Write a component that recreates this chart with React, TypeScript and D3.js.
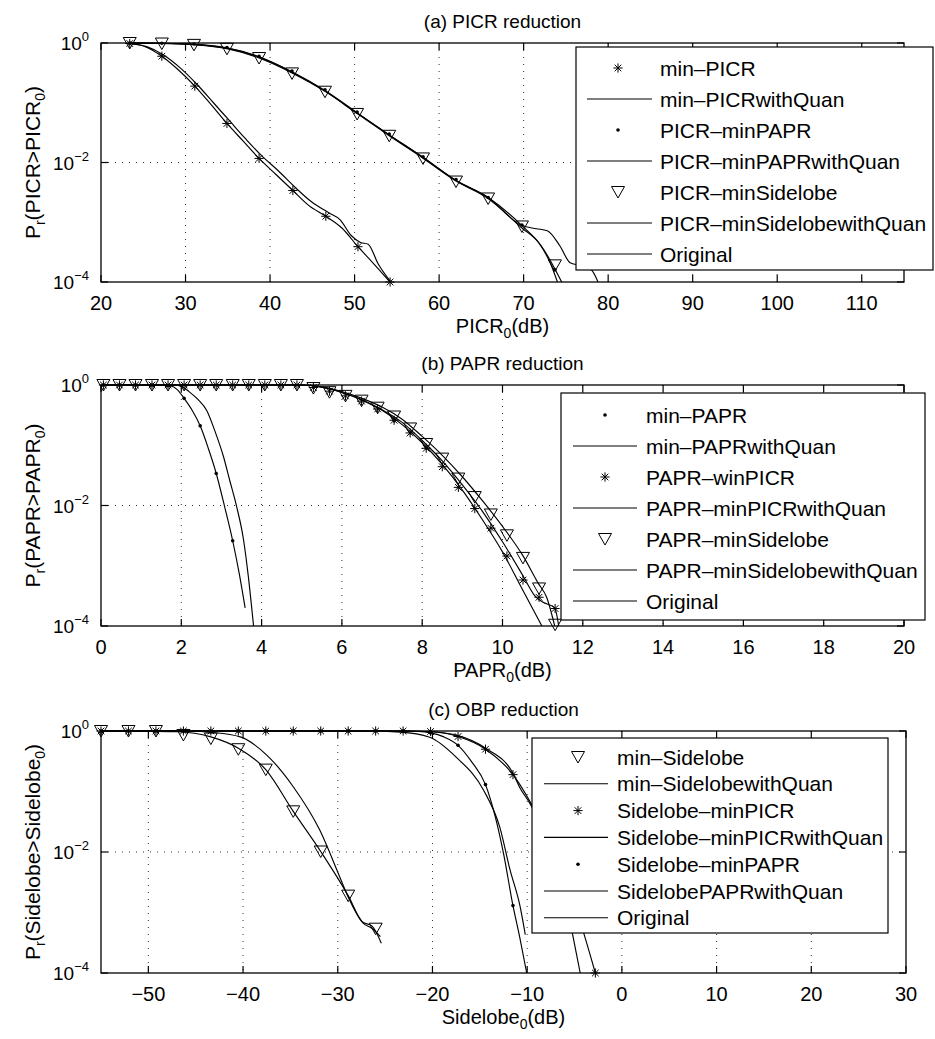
import React from "react";
import * as d3 from "d3";

const FONT = "'Liberation Sans', Arial, Helvetica, sans-serif";

// ---------------- Panel (a) PICR reduction ----------------
const aXTicks = [20, 30, 40, 50, 60, 70, 80, 90, 100, 110];
const aStarX = [23.4, 27.2, 31.1, 34.9, 38.7, 42.7, 46.6, 50.4, 54.2];
const aStarP = [0.98, 0.6, 0.19, 0.045, 0.0117, 0.0034, 0.00126, 0.00039, 0.0001];
const aMinPicrLineX = [23.4, 25.3, 27.2, 29.1, 31.1, 33.0, 34.9, 36.8, 38.7, 40.7, 42.7, 44.6, 46.6, 48.5, 50.4, 52.3, 54.2];
const aMinPicrLineP = [0.98, 0.86, 0.6, 0.36, 0.19, 0.094, 0.045, 0.023, 0.0117, 0.0063, 0.0034, 0.0019, 0.00126, 0.0008, 0.00039, 0.0002, 0.0001];
const aMinPicrQuanX = [23.4, 25.4, 27.4, 29.4, 31.4, 33.3, 35.2, 37.1, 39.0, 41.0, 43.0, 44.9, 46.9, 48.3, 49.6, 50.7, 51.6, 52.8, 54.3];
const aMinPicrQuanP = [0.98, 0.87, 0.63, 0.38, 0.2, 0.1, 0.05, 0.025, 0.013, 0.0072, 0.0038, 0.0022, 0.00145, 0.0011, 0.0006, 0.00046, 0.00043, 0.0002, 0.0001];
const aTriX = [23.4, 27.2, 31.0, 34.9, 38.7, 42.6, 46.5, 50.3, 54.1, 58.1, 62.0, 65.8, 69.8, 73.7];
const aTriP = [1.0, 0.98, 0.93, 0.8, 0.56, 0.31, 0.153, 0.065, 0.028, 0.0117, 0.0048, 0.0025, 0.00085, 0.00019];
const aDotP = [1.0, 0.99, 0.96, 0.84, 0.6, 0.34, 0.165, 0.07, 0.03, 0.0125, 0.0052, 0.0026, 0.0009, 0.00016];
const aOrigX = [23.4, 27.2, 31.0, 34.9, 38.7, 42.6, 46.5, 50.3, 54.1, 58.1, 62.0, 65.8, 69.8, 72.1, 74.5];
const aOrigP = [1.0, 0.99, 0.95, 0.82, 0.58, 0.325, 0.158, 0.067, 0.029, 0.0121, 0.005, 0.0026, 0.00088, 0.0004, 0.0001];
const aPaprQuanX = [23.4, 27.2, 31.0, 34.9, 38.7, 42.6, 46.5, 50.3, 54.1, 58.1, 62.0, 65.8, 69.8, 71.5, 72.8, 74.3, 75.5, 76.6, 78.0, 78.8];
const aPaprQuanP = [1.0, 0.99, 0.95, 0.83, 0.59, 0.33, 0.16, 0.068, 0.029, 0.0122, 0.005, 0.0026, 0.00088, 0.00078, 0.00072, 0.0004, 0.00021, 0.00019, 0.00016, 0.0001];
const aSideQuanX = [23.4, 27.2, 31.0, 34.9, 38.7, 42.6, 46.5, 50.3, 54.1, 58.1, 62.0, 65.8, 69.8, 71.8, 73.2, 74.0];
const aSideQuanP = [1.0, 0.98, 0.94, 0.8, 0.56, 0.315, 0.155, 0.066, 0.028, 0.0118, 0.0049, 0.0025, 0.0008, 0.00045, 0.0002, 0.0001];
const aLegendLabels = ["min–PICR", "min–PICRwithQuan", "PICR–minPAPR", "PICR–minPAPRwithQuan", "PICR–minSidelobe", "PICR–minSidelobewithQuan", "Original"];
const aLegendKinds = ["star", "line", "dot", "line", "tri", "line", "line"];

// ---------------- Panel (b) PAPR reduction ----------------
const bXTicks = [0, 2, 4, 6, 8, 10, 12, 14, 16, 18, 20];
const bGridX = [0.06, 0.46, 0.86, 1.27, 1.67, 2.07, 2.47, 2.87, 3.28, 3.68, 4.08, 4.48, 4.88, 5.29, 5.69, 6.09, 6.49, 6.89, 7.30, 7.70, 8.10, 8.50, 8.90, 9.31, 9.71, 10.11, 10.51, 10.91, 11.31];
const bTriP = [1, 1, 1, 1, 1, 1, 1, 1, 1, 1, 1, 1, 1, 0.89, 0.76, 0.66, 0.55, 0.42, 0.3, 0.19, 0.105, 0.06, 0.028, 0.0138, 0.0071, 0.0032, 0.00135, 0.00042, 0.000105];
const bStarP = [1, 1, 1, 1, 1, 1, 1, 1, 1, 1, 1, 1, 1, 0.91, 0.79, 0.66, 0.54, 0.4, 0.26, 0.16, 0.089, 0.044, 0.02, 0.0089, 0.0042, 0.00145, 0.00058, 0.0003, 0.000195];
const bMinPaprDotX = [0.06, 0.46, 0.86, 1.27, 1.67, 2.07, 2.47, 2.87, 3.28];
const bMinPaprDotP = [1, 1, 1, 1, 0.98, 0.6, 0.21, 0.034, 0.0026];
const bMinPaprLineX = [0.06, 1.5, 1.72, 1.9, 2.07, 2.27, 2.47, 2.67, 2.87, 3.08, 3.28, 3.45, 3.59];
const bMinPaprLineP = [1, 1, 0.97, 0.84, 0.6, 0.38, 0.21, 0.09, 0.034, 0.0095, 0.0026, 0.0007, 0.0002];
const bMinPaprQuanX = [0.06, 1.8, 2.0, 2.2, 2.42, 2.63, 2.84, 3.05, 3.2, 3.38, 3.55, 3.67, 3.8];
const bMinPaprQuanP = [1, 1, 0.95, 0.77, 0.57, 0.38, 0.17, 0.065, 0.027, 0.0095, 0.0027, 0.00066, 0.0001];
const bOrigX = [0.06, 5.0, 5.5, 6.0, 6.5, 7.0, 7.5, 8.0, 8.5, 9.0, 9.5, 10.0, 10.5, 10.98];
const bOrigP = [1, 1, 0.92, 0.75, 0.56, 0.38, 0.22, 0.11, 0.048, 0.018, 0.0058, 0.0017, 0.0004, 0.0001];
const bSideQuanX = [0.06, 5.0, 5.5, 6.0, 6.5, 7.0, 7.5, 8.0, 8.5, 9.0, 9.5, 10.0, 10.5, 10.9, 11.1, 11.3];
const bSideQuanP = [1, 1, 0.93, 0.78, 0.6, 0.43, 0.27, 0.14, 0.068, 0.03, 0.012, 0.0045, 0.0015, 0.0005, 0.0003, 0.0001];
const bPicrQuanX = [0.06, 5.0, 5.5, 6.0, 6.5, 7.0, 7.5, 8.0, 8.5, 9.0, 9.5, 10.0, 10.5, 10.8, 11.0, 11.3, 11.4];
const bPicrQuanP = [1, 1, 0.92, 0.76, 0.57, 0.39, 0.24, 0.12, 0.055, 0.022, 0.008, 0.0025, 0.0007, 0.00032, 0.00025, 0.0002, 0.0001];
const bLegendLabels = ["min–PAPR", "min–PAPRwithQuan", "PAPR–winPICR", "PAPR–minPICRwithQuan", "PAPR–minSidelobe", "PAPR–minSidelobewithQuan", "Original"];
const bLegendKinds = ["dot", "line", "star", "line", "tri", "line", "line"];

// ---------------- Panel (c) OBP reduction ----------------
const cXTicks = [-50, -40, -30, -20, -10, 0, 10, 20, 30];
const cTriX = [-55, -52.1, -49.2, -46.3, -43.4, -40.5, -37.6, -34.7, -31.8, -28.9, -26.0];
const cTriP = [1, 1, 1, 0.86, 0.75, 0.5, 0.23, 0.047, 0.0102, 0.0019, 0.00054];
const cTriLineX = [-55, -47, -43.4, -40.5, -37.6, -34.7, -31.8, -28.9, -27.4, -26.4, -25.4];
const cTriLineP = [1, 0.97, 0.8, 0.52, 0.23, 0.047, 0.0102, 0.0019, 0.0007, 0.0006, 0.00031];
const cSideQuanX = [-55, -46, -43.4, -40.3, -37.5, -34.7, -31.9, -29.8, -28.9, -27.3, -26.4, -25.5];
const cSideQuanP = [1, 1, 0.95, 0.8, 0.4, 0.12, 0.023, 0.0039, 0.0018, 0.00066, 0.00055, 0.0004];
const cStarX = [-55, -52.1, -49.2, -46.3, -43.4, -40.5, -37.6, -34.7, -31.8, -28.9, -26.0, -23.1, -20.2, -17.3, -14.4, -11.5, -8.6, -5.7, -2.8];
const cStarP = [1, 1, 1, 1, 1, 1, 1, 1, 1, 1, 1, 1, 0.98, 0.81, 0.5, 0.19, 0.032, 0.003, 0.0001];
const cPicrQuanX = [-55, -23, -20.2, -17.3, -14.4, -11.5, -10.8, -9.7, -8.6, -7.2, -6.0, -5.2, -4.4];
const cPicrQuanP = [1, 1, 0.97, 0.84, 0.52, 0.2, 0.118, 0.063, 0.03, 0.0095, 0.0018, 0.00043, 0.0001];
const cDotX = [-55, -52.1, -49.2, -46.3, -43.4, -40.5, -37.6, -34.7, -31.8, -28.9, -26.0, -23.1, -20.2, -17.3, -14.4, -11.5];
const cDotP = [1, 1, 1, 1, 1, 1, 1, 1, 1, 1, 1, 1, 0.93, 0.58, 0.13, 0.0013];
const cPaprLineX = [-55, -24, -21.5, -20.2, -18.8, -17.3, -15.8, -14.4, -13.4, -12.5, -11.5, -10.8, -10.05];
const cPaprLineP = [1, 1, 0.98, 0.93, 0.8, 0.58, 0.3, 0.13, 0.04, 0.0095, 0.0013, 0.0004, 0.0001];
const cOrigX = [-55, -27, -23.4, -20.3, -17.5, -14.6, -12.9, -11.8, -10.75, -10.2];
const cOrigP = [1, 1, 0.96, 0.79, 0.37, 0.105, 0.026, 0.005, 0.00126, 0.00043];
const cLegendLabels = ["min–Sidelobe", "min–SidelobewithQuan", "Sidelobe–minPICR", "Sidelobe–minPICRwithQuan", "Sidelobe–minPAPR", "SidelobePAPRwithQuan", "Original"];
const cLegendKinds = ["tri", "line", "star", "line", "dot", "line", "line"];

const yTickExps = [0, -2, -4];

type Kind = "star" | "dot" | "tri" | "line";
interface Series { x: number[]; p: number[]; line: boolean; marker: Kind | null; }

function Glyph({ kind, x, y }: { kind: Kind; x: number; y: number }) {
  if (kind === "star") {
    const r = 4.6, d = r * 0.72;
    return (
      <g stroke="#000" strokeWidth={1}>
        <line x1={x - r} y1={y} x2={x + r} y2={y} />
        <line x1={x} y1={y - r} x2={x} y2={y + r} />
        <line x1={x - d} y1={y - d} x2={x + d} y2={y + d} />
        <line x1={x - d} y1={y + d} x2={x + d} y2={y - d} />
      </g>
    );
  }
  if (kind === "dot") return <circle cx={x} cy={y} r={1.8} fill="#000" />;
  if (kind === "tri")
    return <path d={`M${x - 6.5},${y - 5.5}L${x + 6.5},${y - 5.5}L${x},${y + 6}Z`} fill="none" stroke="#000" strokeWidth={1} />;
  return null;
}

interface PanelProps {
  top: number; bottom: number; left: number; right: number;
  xDomain: [number, number]; xTicks: number[];
  title: string; xName: string; yName: string;
  series: Series[];
  legendLabels: string[]; legendKinds: string[];
  lg: { x: number; y: number; w: number; h: number; row0: number; step: number; lx1: number; lx2: number; mx: number; tx: number };
  id: string;
}

function Panel(props: PanelProps) {
  const { top, bottom, left, right, xDomain, xTicks, title, xName, yName, series, legendLabels, legendKinds, lg, id } = props;
  const xs = d3.scaleLinear().domain(xDomain).range([left, right]);
  const ys = d3.scaleLog().domain([1e-4, 1]).range([bottom, top]);
  const lineGen = d3.line<[number, number]>().x((d) => xs(d[0])).y((d) => ys(d[1])).curve(d3.curveMonotoneX);
  const midX = (left + right) / 2;
  const midY = (top + bottom) / 2;
  const fmt = (v: number) => (v < 0 ? "\u2212" + Math.abs(v) : String(v));
  return (
    <g fontFamily={FONT}>
      <defs>
        <clipPath id={`clip-${id}`}><rect x={left} y={top - 1} width={right - left} height={bottom - top + 2} /></clipPath>
        <clipPath id={`lg-${id}`}><rect x={lg.x} y={lg.y} width={lg.w} height={lg.h} /></clipPath>
      </defs>
      {xTicks.filter((t) => t > xDomain[0] && t < xDomain[1]).map((t) => (
        <line key={`gx${t}`} x1={xs(t)} x2={xs(t)} y1={top} y2={bottom} stroke="#333" strokeWidth={1} strokeDasharray="1,6" />
      ))}
      <line x1={left} x2={right} y1={ys(1e-2)} y2={ys(1e-2)} stroke="#333" strokeWidth={1} strokeDasharray="1,6" />
      <g clipPath={`url(#clip-${id})`}>
        {series.filter((s) => s.line).map((s, i) => (
          <path key={`l${i}`} d={lineGen(s.x.map((v, k) => [v, s.p[k]] as [number, number])) || ""} fill="none" stroke="#000" strokeWidth={1.15} />
        ))}
      </g>
      {series.filter((s) => s.marker).map((s, i) => (
        <g key={`m${i}`}>
          {s.x.map((v, k) => <Glyph key={k} kind={s.marker as Kind} x={xs(v)} y={ys(s.p[k])} />)}
        </g>
      ))}
      <rect x={left} y={top} width={right - left} height={bottom - top} fill="none" stroke="#000" strokeWidth={1.3} />
      {xTicks.map((t) => (
        <g key={`t${t}`}>
          <line x1={xs(t)} x2={xs(t)} y1={bottom} y2={bottom - 7} stroke="#000" strokeWidth={1.2} />
          <line x1={xs(t)} x2={xs(t)} y1={top} y2={top + 7} stroke="#000" strokeWidth={1.2} />
          <text x={xs(t)} y={bottom + 28} fontSize={20} textAnchor="middle">{fmt(t)}</text>
        </g>
      ))}
      {yTickExps.map((e) => (
        <g key={`y${e}`}>
          <line x1={left} x2={left + 7} y1={ys(Math.pow(10, e))} y2={ys(Math.pow(10, e))} stroke="#000" strokeWidth={1.2} />
          <line x1={right} x2={right - 7} y1={ys(Math.pow(10, e))} y2={ys(Math.pow(10, e))} stroke="#000" strokeWidth={1.2} />
          <text x={89} y={ys(Math.pow(10, e)) + 7} fontSize={19} textAnchor="end">
            10<tspan dy={-9} fontSize={13}>{e === 0 ? "0" : "\u2212" + Math.abs(e)}</tspan>
          </text>
        </g>
      ))}
      <text x={midX} y={top - 15} fontSize={19} textAnchor="middle">{title}</text>
      <text x={midX} y={bottom + 51} fontSize={20} textAnchor="middle">
        {xName}<tspan dy={5} fontSize={14}>0</tspan><tspan dy={-5}>(dB)</tspan>
      </text>
      <text transform={`translate(40,${midY}) rotate(-90)`} fontSize={21} textAnchor="middle">
        P<tspan dy={5} fontSize={14}>r</tspan><tspan dy={-5}>({yName}&gt;{yName}</tspan><tspan dy={5} fontSize={14}>0</tspan><tspan dy={-5}>)</tspan>
      </text>
      <rect x={lg.x} y={lg.y} width={lg.w} height={lg.h} fill="#fff" stroke="#000" strokeWidth={1.2} />
      <g clipPath={`url(#lg-${id})`}>
        {legendLabels.map((lab, i) => {
          const yy = lg.row0 + i * lg.step;
          const k = legendKinds[i] as Kind;
          return (
            <g key={`lg${i}`}>
              {k === "line"
                ? <line x1={lg.lx1} x2={lg.lx2} y1={yy} y2={yy} stroke="#000" strokeWidth={1.1} />
                : <Glyph kind={k} x={lg.mx} y={yy} />}
              <text x={lg.tx} y={yy + 7.5} fontSize={21}>{lab}</text>
            </g>
          );
        })}
      </g>
    </g>
  );
}

export default function App() {
  const L = 101, R = 904;
  const aSeries: Series[] = [
    { x: aMinPicrLineX, p: aMinPicrLineP, line: true, marker: null },
    { x: aStarX, p: aStarP, line: false, marker: "star" },
    { x: aMinPicrQuanX, p: aMinPicrQuanP, line: true, marker: null },
    { x: aOrigX, p: aOrigP, line: true, marker: null },
    { x: aPaprQuanX, p: aPaprQuanP, line: true, marker: null },
    { x: aSideQuanX, p: aSideQuanP, line: true, marker: null },
    { x: aTriX, p: aDotP, line: false, marker: "dot" },
    { x: aTriX, p: aTriP, line: false, marker: "tri" },
  ];
  const bSeries: Series[] = [
    { x: bMinPaprLineX, p: bMinPaprLineP, line: true, marker: null },
    { x: bMinPaprDotX, p: bMinPaprDotP, line: false, marker: "dot" },
    { x: bMinPaprQuanX, p: bMinPaprQuanP, line: true, marker: null },
    { x: bOrigX, p: bOrigP, line: true, marker: null },
    { x: bSideQuanX, p: bSideQuanP, line: true, marker: null },
    { x: bPicrQuanX, p: bPicrQuanP, line: true, marker: null },
    { x: bGridX, p: bStarP, line: false, marker: "star" },
    { x: bGridX, p: bTriP, line: false, marker: "tri" },
  ];
  const cSeries: Series[] = [
    { x: cTriLineX, p: cTriLineP, line: true, marker: null },
    { x: cSideQuanX, p: cSideQuanP, line: true, marker: null },
    { x: cStarX, p: cStarP, line: true, marker: "star" },
    { x: cPicrQuanX, p: cPicrQuanP, line: true, marker: null },
    { x: cPaprLineX, p: cPaprLineP, line: true, marker: null },
    { x: cOrigX, p: cOrigP, line: true, marker: null },
    { x: cDotX, p: cDotP, line: false, marker: "dot" },
    { x: cTriX, p: cTriP, line: false, marker: "tri" },
  ];
  return (
    <svg width={935} height={1039} style={{ position: "absolute", left: 0, top: 0, background: "#fff" }}>
      <rect x={0} y={0} width={935} height={1039} fill="#fff" />
      <Panel id="a" top={43} bottom={282} left={L} right={R} xDomain={[20, 115]} xTicks={aXTicks}
        title="(a) PICR reduction" xName="PICR" yName="PICR" series={aSeries}
        legendLabels={aLegendLabels} legendKinds={aLegendKinds}
        lg={{ x: 576, y: 47, w: 357, h: 223, row0: 68, step: 31, lx1: 587, lx2: 652, mx: 618, tx: 660 }} />
      <Panel id="b" top={385} bottom={626} left={L} right={R} xDomain={[0, 20]} xTicks={bXTicks}
        title="(b) PAPR reduction" xName="PAPR" yName="PAPR" series={bSeries}
        legendLabels={bLegendLabels} legendKinds={bLegendKinds}
        lg={{ x: 561, y: 393, w: 364, h: 227, row0: 415, step: 31, lx1: 573, lx2: 637, mx: 605, tx: 646 }} />
      <Panel id="c" top={731} bottom={973} left={L} right={906} xDomain={[-55, 30]} xTicks={cXTicks}
        title="(c) OBP reduction" xName="Sidelobe" yName="Sidelobe" series={cSeries}
        legendLabels={cLegendLabels} legendKinds={cLegendKinds}
        lg={{ x: 532, y: 738, w: 356, h: 195, row0: 757, step: 26.8, lx1: 544, lx2: 608, mx: 578, tx: 617 }} />
    </svg>
  );
}
